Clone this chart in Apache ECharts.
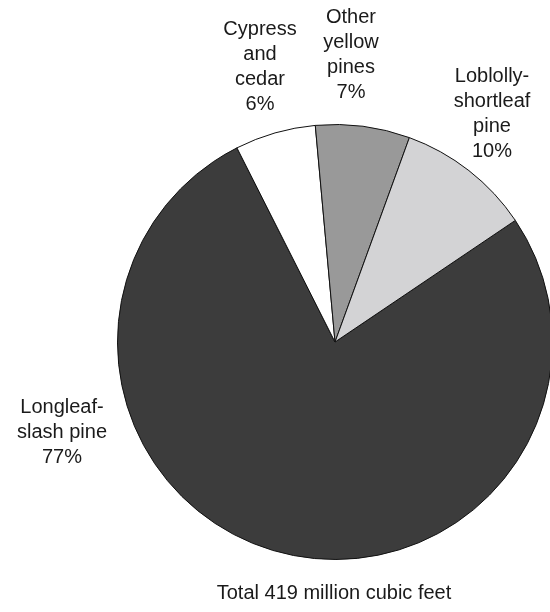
<!DOCTYPE html>
<html>
<head>
<meta charset="utf-8">
<script src="https://cdn.jsdelivr.net/npm/echarts@6/dist/echarts.min.js"></script>
<style>
  html, body { margin: 0; padding: 0; background: #fff; }
  #chart { width: 550px; height: 612px; }
</style>
</head>
<body>
<div id="chart"></div>
<script>
// Softwood volume by species group (percent of total)
const categories = ['Longleaf-\nslash pine', 'Cypress\nand\ncedar', 'Other\nyellow\npines', 'Loblolly-\nshortleaf\npine'];
const shares = [77, 6, 7, 10];
const sliceColors = ['#3c3c3c', '#ffffff', '#999999', '#d3d3d5'];
const totalNote = 'Total 419 million cubic feet';

// Centre points of each label block, in pixels
const labelSpots = [[62, 432], [260, 67], [351, 55], [492, 114]];

const chart = echarts.init(document.getElementById('chart'), null, { renderer: 'canvas' });

chart.setOption({
  animation: false,
  backgroundColor: '#ffffff',
  textStyle: { fontFamily: '"Liberation Sans", Arial, sans-serif' },
  graphic: [{
    type: 'text',
    x: 334,
    y: 593,
    style: {
      text: totalNote,
      align: 'center',
      verticalAlign: 'middle',
      font: '20px "Liberation Sans", Arial, sans-serif',
      fill: '#1a1a1a'
    }
  }],
  series: [{
    type: 'pie',
    center: [335, 342],
    radius: [0, 217.5],
    startAngle: 34,
    clockwise: true,
    silent: true,
    itemStyle: { borderColor: '#111', borderWidth: 1 },
    label: {
      show: true,
      position: 'inside',
      formatter: p => p.name + '\n' + p.value + '%',
      fontSize: 20,
      lineHeight: 25,
      color: '#1a1a1a',
      align: 'center',
      overflow: 'none',
      fontFamily: '"Liberation Sans", Arial, sans-serif'
    },
    labelLine: { show: false },
    labelLayout: params => ({
      x: labelSpots[params.dataIndex][0],
      y: labelSpots[params.dataIndex][1],
      align: 'center',
      verticalAlign: 'middle'
    }),
    data: categories.map((name, i) => ({
      name: name,
      value: shares[i],
      itemStyle: { color: sliceColors[i] }
    }))
  }]
});
</script>
</body>
</html>
